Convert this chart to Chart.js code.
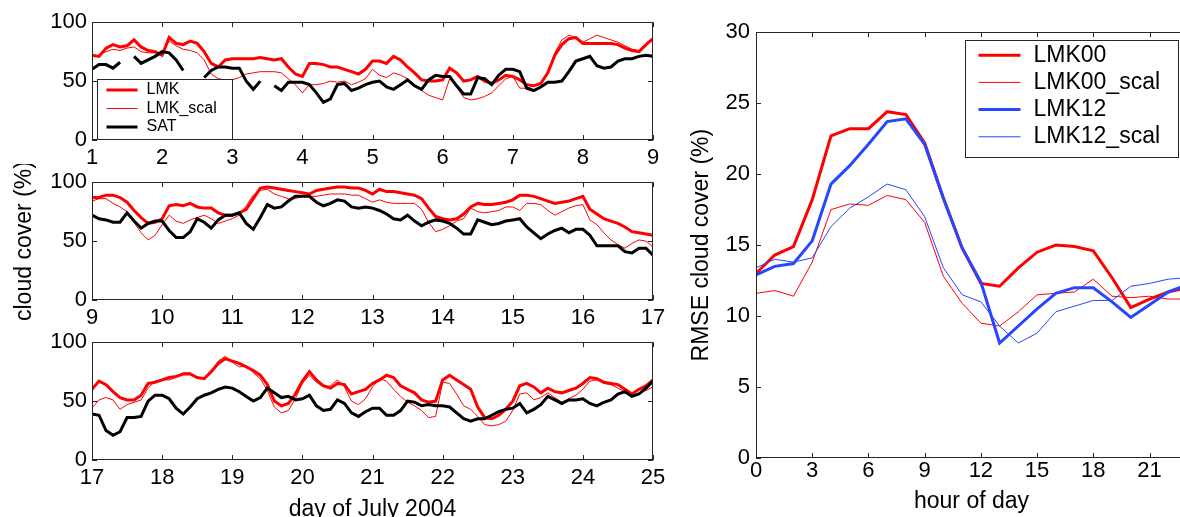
<!DOCTYPE html>
<html>
<head>
<meta charset="utf-8">
<title>cloud cover July 2004</title>
<script src="https://cdn.jsdelivr.net/npm/chart.js@4.4.1/dist/chart.umd.min.js"></script>
<style>
  html, body { margin: 0; padding: 0; background: #fff; overflow: hidden; width: 1180px; height: 517px; }
  canvas { position: absolute; }
</style>
</head>
<body>
<canvas id="p1" width="680" height="172" style="left:0;top:4px"></canvas>
<canvas id="p2" width="680" height="172" style="left:0;top:164px"></canvas>
<canvas id="p3" width="680" height="204" style="left:0;top:324px"></canvas>
<canvas id="rmse" width="540" height="504" style="left:680px;top:13px"></canvas>
<script>
// time series, one value every 0.1 day
const STEP = 0.1;
const p1Start = 1, p2Start = 9, p3Start = 17;

const p1Lmk = [72,71,78,81,79,80,85,79,76,75, 72,87,82,81,84,82,75,65,62,68,
  69,69,69,69,70,69,68,69,62,56, 54,65,65,64,62,62,60,58,56,60,
  67,67,65,71,68,62,57,51,50,50, 51,61,57,50,51,54,50,48,51,55,
  54,51,47,46,48,57,72,81,86,87, 82,82,82,82,82,81,78,76,75,81, 86];
const p1Scal = [71,72,75,77,76,78,79,75,74,74, 73,84,80,77,76,74,68,56,52,51,
  51,53,56,57,58,58,58,57,52,47, 40,47,47,48,50,49,50,47,49,52,
  60,55,53,57,55,52,47,42,38,36, 34,52,45,36,34,35,37,40,46,52,
  54,44,44,46,49,58,74,85,89,87, 83,86,89,87,85,83,80,77,76,81, 85];
const p1Sat = [60,64,64,61,66,null,71,65,68,71, 75,74,68,59,null,null,53,59,62,62,
  61,61,50,43,50,null,46,42,49,49, 49,47,40,32,35,47,48,42,44,47,
  49,50,45,43,47,51,46,43,51,55, 54,54,46,39,39,53,52,47,55,60,
  60,58,44,42,45,49,49,50,58,67, 69,71,63,61,62,67,69,69,71,72, 71];

const p2Lmk = [87,87,89,89,87,83,76,70,65,66, 69,80,81,80,82,79,78,78,74,72,
  72,74,77,86,95,96,95,94,93,92, 91,90,93,94,95,96,96,95,95,93,
  90,94,92,92,91,90,89,86,78,71, 69,68,69,73,79,82,81,81,82,83,
  85,89,89,88,86,84,82,83,84,86, 88,77,73,69,67,65,62,58,57,56, 55];
const p2Scal = [84,86,86,82,79,75,66,57,51,55, 64,72,67,65,68,70,72,69,65,67,
  69,72,80,89,93,94,90,88,86,86, 88,88,88,89,90,90,90,89,89,86,
  83,85,83,82,82,82,82,77,66,58, 60,63,67,69,78,75,74,75,76,79,
  79,76,82,82,81,76,72,75,78,80, 81,68,64,57,51,47,44,48,51,50, 45];
const p2Sat = [72,69,68,66,66,74,67,61,65,67, 67,59,53,53,58,69,66,61,68,72,
  72,74,65,60,70,81,78,79,84,88, 88,88,83,80,82,85,84,79,78,79,
  78,76,73,69,68,72,67,63,66,68, 67,65,61,56,56,68,66,64,65,67,
  68,69,62,57,52,56,59,61,57,60, 60,55,46,46,46,46,41,40,44,44, 38];

const p3Lmk = [60,67,64,58,53,51,51,55,65,66, 68,70,71,73,73,70,69,75,82,86,
  84,82,79,76,72,64,50,46,48,56, 67,75,68,63,61,65,64,56,58,60,
  65,68,72,70,63,60,57,51,49,50, 68,72,68,64,60,45,36,35,38,43,
  50,63,65,62,57,61,58,57,59,61, 65,70,69,66,65,64,60,56,60,63, 68];
const p3Scal = [44,51,53,51,43,47,49,51,61,67, 68,68,70,74,74,70,69,75,84,88,
  83,79,80,74,69,59,45,40,42,52, 65,72,66,62,63,68,62,50,47,52,
  62,69,67,60,54,49,46,42,36,37, 66,65,56,46,43,37,30,29,30,33,
  42,56,57,51,53,57,53,49,52,55, 60,67,68,65,64,61,58,54,57,59, 62];
const p3Sat = [39,38,25,21,24,36,36,37,50,55, 55,52,44,39,45,52,55,57,60,62,
  61,58,54,50,53,61,57,53,54,51, 52,55,46,42,43,51,48,40,37,41,
  44,44,38,38,42,50,49,46,47,46, 46,45,40,35,33,35,35,38,41,43,
  44,48,40,43,47,54,51,48,51,51, 52,48,46,49,51,56,58,54,56,61, 67];

// RMSE by hour of day
const hours = [0,1,2,3,4,5,6,7,8,9,10,11,12,13,14,15,16,17,18,19,20,21,22,23];
const rmseLmk00 = [13.0,14.3,14.9,18.2,22.7,23.2,23.2,24.4,24.2,22.2,18.3,14.8,12.3,12.1,13.4,14.5,15.0,14.9,14.6,12.7,10.6,11.2,11.7,12.0];
const rmseLmk00Scal = [11.6,11.8,11.4,13.8,17.5,17.9,17.8,18.5,18.2,16.6,12.8,10.9,9.5,9.3,10.3,11.5,11.6,11.7,12.6,11.4,11.3,11.4,11.2,11.2];
const rmseLmk12 = [12.9,13.5,13.7,15.3,19.3,20.6,22.1,23.7,23.9,22.1,18.3,14.8,12.4,8.1,9.3,10.5,11.6,12.0,12.0,11.0,9.9,10.8,11.7,12.2];
const rmseLmk12Scal = [13.4,14.0,13.8,14.1,16.3,17.6,18.4,19.3,18.9,17.0,13.4,11.5,11.0,9.3,8.1,8.8,10.3,10.7,11.1,11.1,12.1,12.3,12.6,12.7];

const RED = '#ff0000';
const BLUE = '#2646ff';
const FONT = '"Liberation Sans", Arial, Helvetica, sans-serif';

Chart.defaults.font.family = FONT;
Chart.defaults.font.size = 22;
Chart.defaults.color = '#000';

const pts = (start, vals) => vals.map((v, i) => ({ x: +(start + i * STEP).toFixed(2), y: v }));

// matlab-like box, inward ticks, and a boxed legend on top of the lines
const boxPlugin = {
  id: 'box',
  afterDatasetsDraw(chart, args, o) {
    const { ctx, chartArea: a, scales } = chart;
    ctx.save();
    ctx.strokeStyle = '#262626';
    ctx.lineWidth = 1;
    ctx.strokeRect(Math.round(a.left) + 0.5, Math.round(a.top) + 0.5,
      Math.round(a.right - a.left) - 1, Math.round(a.bottom - a.top) - 1);
    ctx.beginPath();
    for (const t of scales.x.ticks) {
      const p = Math.round(scales.x.getPixelForValue(t.value)) + 0.5;
      ctx.moveTo(p, a.bottom); ctx.lineTo(p, a.bottom - o.tick);
      ctx.moveTo(p, a.top); ctx.lineTo(p, a.top + o.tick);
    }
    for (const t of scales.y.ticks) {
      const p = Math.round(scales.y.getPixelForValue(t.value)) + 0.5;
      ctx.moveTo(a.left, p); ctx.lineTo(a.left + o.tick, p);
      ctx.moveTo(a.right, p); ctx.lineTo(a.right - o.tick, p);
    }
    ctx.stroke();

    const lg = o.legend;
    if (lg) {
      const bx = Math.round(lg.fromRight ? a.right - lg.dx - lg.w : a.left + lg.dx) + 0.5;
      const by = Math.round(a.top + lg.dy) + 0.5;
      ctx.fillStyle = '#fff';
      ctx.fillRect(bx, by, lg.w, lg.h);
      ctx.strokeStyle = '#262626';
      ctx.strokeRect(bx, by, lg.w, lg.h);
      ctx.font = lg.size + 'px ' + FONT;
      ctx.textBaseline = 'middle';
      ctx.textAlign = 'left';
      chart.data.datasets.forEach((ds, i) => {
        const y = by + lg.row0 + i * lg.rowH;
        ctx.beginPath();
        ctx.strokeStyle = ds.borderColor;
        ctx.lineWidth = ds.borderWidth;
        ctx.moveTo(bx + lg.line0, y);
        ctx.lineTo(bx + lg.line1, y);
        ctx.stroke();
        ctx.fillStyle = '#000';
        ctx.fillText(ds.label, bx + lg.text, y);
      });
    }
    ctx.restore();
  }
};

const noGrid = { display: false, drawTicks: false };

function timePanel(id, start, lmk, scal, sat, extra) {
  const xAxis = {
    type: 'linear', min: start, max: start + 8,
    grid: noGrid, border: { display: false },
    afterFit: s => { s.height = extra.xHeight; },
    ticks: { stepSize: 1, autoSkip: false, maxRotation: 0, padding: 5 }
  };
  if (extra.xTitle) {
    xAxis.title = { display: true, text: extra.xTitle, font: { size: 23 }, padding: { top: 0, bottom: 5 } };
  }
  const yAxis = {
    min: 0, max: 100,
    grid: noGrid, border: { display: false },
    afterFit: s => { s.width = 92; },
    ticks: { stepSize: 50, padding: 5 }
  };
  if (extra.yTitle) {
    yAxis.title = { display: true, text: extra.yTitle, font: { size: 23 }, padding: { top: 11, bottom: 0 } };
  }
  new Chart(document.getElementById(id), {
    type: 'line',
    data: {
      datasets: [
        { label: 'LMK', data: pts(start, lmk), borderColor: RED, borderWidth: 3, order: 2 },
        { label: 'LMK_scal', data: pts(start, scal), borderColor: RED, borderWidth: 1, order: 1 },
        { label: 'SAT', data: pts(start, sat), borderColor: '#000', borderWidth: 3, order: 0 }
      ]
    },
    options: {
      responsive: false, animation: false, devicePixelRatio: 1,
      layout: { padding: { left: 0, right: 27, top: 16, bottom: 0 } },
      elements: { point: { radius: 0 }, line: { tension: 0 } },
      scales: { x: xAxis, y: yAxis },
      plugins: {
        legend: { display: false }, tooltip: { enabled: false },
        box: {
          tick: 5,
          legend: extra.legend ? { dx: 5, dy: 57, w: 135, h: 60, row0: 10.5, rowH: 18.5, line0: 9, line1: 40, text: 49, size: 16 } : null
        }
      }
    },
    plugins: [boxPlugin]
  });
}

timePanel('p1', p1Start, p1Lmk, p1Scal, p1Sat, { xHeight: 36, legend: true });
timePanel('p2', p2Start, p2Lmk, p2Scal, p2Sat, { xHeight: 36, yTitle: 'cloud cover (%)' });
timePanel('p3', p3Start, p3Lmk, p3Scal, p3Sat, { xHeight: 68, xTitle: 'day of July 2004' });

const hourPts = vals => vals.map((v, i) => ({ x: hours[i], y: v }));

new Chart(document.getElementById('rmse'), {
  type: 'line',
  data: {
    datasets: [
      { label: 'LMK00', data: hourPts(rmseLmk00), borderColor: RED, borderWidth: 3, order: 3 },
      { label: 'LMK00_scal', data: hourPts(rmseLmk00Scal), borderColor: RED, borderWidth: 1, order: 2 },
      { label: 'LMK12', data: hourPts(rmseLmk12), borderColor: BLUE, borderWidth: 3, order: 1 },
      { label: 'LMK12_scal', data: hourPts(rmseLmk12Scal), borderColor: BLUE, borderWidth: 1, order: 0 }
    ]
  },
  options: {
    responsive: false, animation: false, devicePixelRatio: 1,
    layout: { padding: { left: 0, right: 33, top: 16, bottom: 0 } },
    elements: { point: { radius: 0 }, line: { tension: 0 } },
    scales: {
      x: {
        type: 'linear', min: 0, max: 23,
        grid: noGrid, border: { display: false },
        afterFit: s => { s.height = 59; },
        ticks: { stepSize: 3, includeBounds: false, autoSkip: false, maxRotation: 0, padding: 0 },
        title: { display: true, text: 'hour of day', font: { size: 23 }, padding: { top: 0, bottom: 2 } }
      },
      y: {
        min: 0, max: 30,
        grid: noGrid, border: { display: false },
        afterFit: s => { s.width = 76; },
        ticks: { stepSize: 5, padding: 6 },
        title: { display: true, text: 'RMSE cloud cover (%)', font: { size: 23 }, padding: { top: 8, bottom: 0 } }
      }
    },
    plugins: {
      legend: { display: false }, tooltip: { enabled: false },
      box: {
        tick: 5,
        legend: { fromRight: true, dx: 9, dy: 8, w: 213, h: 117, row0: 14.7, rowH: 27.2, line0: 13, line1: 55, text: 68, size: 23 }
      }
    }
  },
  plugins: [boxPlugin]
});
</script>
</body>
</html>
